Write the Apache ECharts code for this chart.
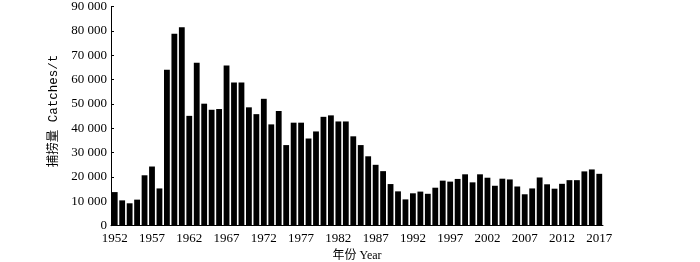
<!DOCTYPE html>
<html><head><meta charset="utf-8">
<script src="https://cdn.jsdelivr.net/npm/echarts@6/dist/echarts.min.js"></script>
<style>html,body{margin:0;padding:0;background:#fff}#c{width:700px;height:262px}</style>
</head><body><div id="c"></div>
<script>
const years = [];
for (let y = 1952; y <= 2017; y++) years.push(String(y));
const catches = [
13800,10400,9200,10700,20700,24300,15300,64000,78800,81500,
45100,66900,50100,47600,47900,65800,58800,58800,48600,45800,
52100,41600,47100,33100,42300,42300,35800,38700,44700,45300,
42800,42800,36700,33100,28500,25000,22400,17100,14100,10800,
13300,14000,13100,15600,18500,18100,19200,21100,17800,21100,
19700,16400,19300,19000,16100,12900,15300,19800,17000,15200,
17200,18700,18700,22300,23100,21300];
const yTicks = [0,10000,20000,30000,40000,50000,60000,70000,80000,90000];
const serif = '"Liberation Serif","DejaVu Serif","Noto Sans CJK SC",serif';
const mono = '"Liberation Mono","Noto Sans CJK SC",monospace';
const chart = echarts.init(document.getElementById('c'));
chart.setOption({
  animation: false,
  grid: {left: 111, right: 97, top: 6.5, bottom: 36.3, outerBoundsMode: 'none', containLabel: false},
  xAxis: {
    type: 'category', data: years,
    name: '年份 Year', nameLocation: 'middle', nameGap: 23,
    nameTextStyle: {color: '#000', fontSize: 12, fontFamily: serif},
    axisLine: {lineStyle: {color: '#000', width: 1}},
    axisTick: {show: false},
    axisLabel: {interval: 4, color: '#000', fontSize: 13, fontFamily: serif, margin: 6}
  },
  yAxis: {
    type: 'value', min: yTicks[0], max: yTicks[yTicks.length-1], interval: 10000,
    name: '捕捞量 Catches/t', nameLocation: 'middle', nameGap: 48,
    nameTextStyle: {color: '#000', fontSize: 12.5, fontFamily: mono, padding: [0,0,0,10]},
    axisLine: {show: true, lineStyle: {color: '#000', width: 1}},
    axisTick: {show: true, inside: true, length: 3, lineStyle: {color: '#000'}},
    splitLine: {show: false},
    axisLabel: {color: '#000', fontSize: 13, fontFamily: serif, margin: 4,
      formatter: v => v === 0 ? '0' : String(v).replace(/(\d)(?=(\d{3})+$)/g, '$1 ')}
  },
  series: [{
    type: 'bar', data: catches, barCategoryGap: '22%',
    itemStyle: {color: '#000'}
  }]
});
</script></body></html>
